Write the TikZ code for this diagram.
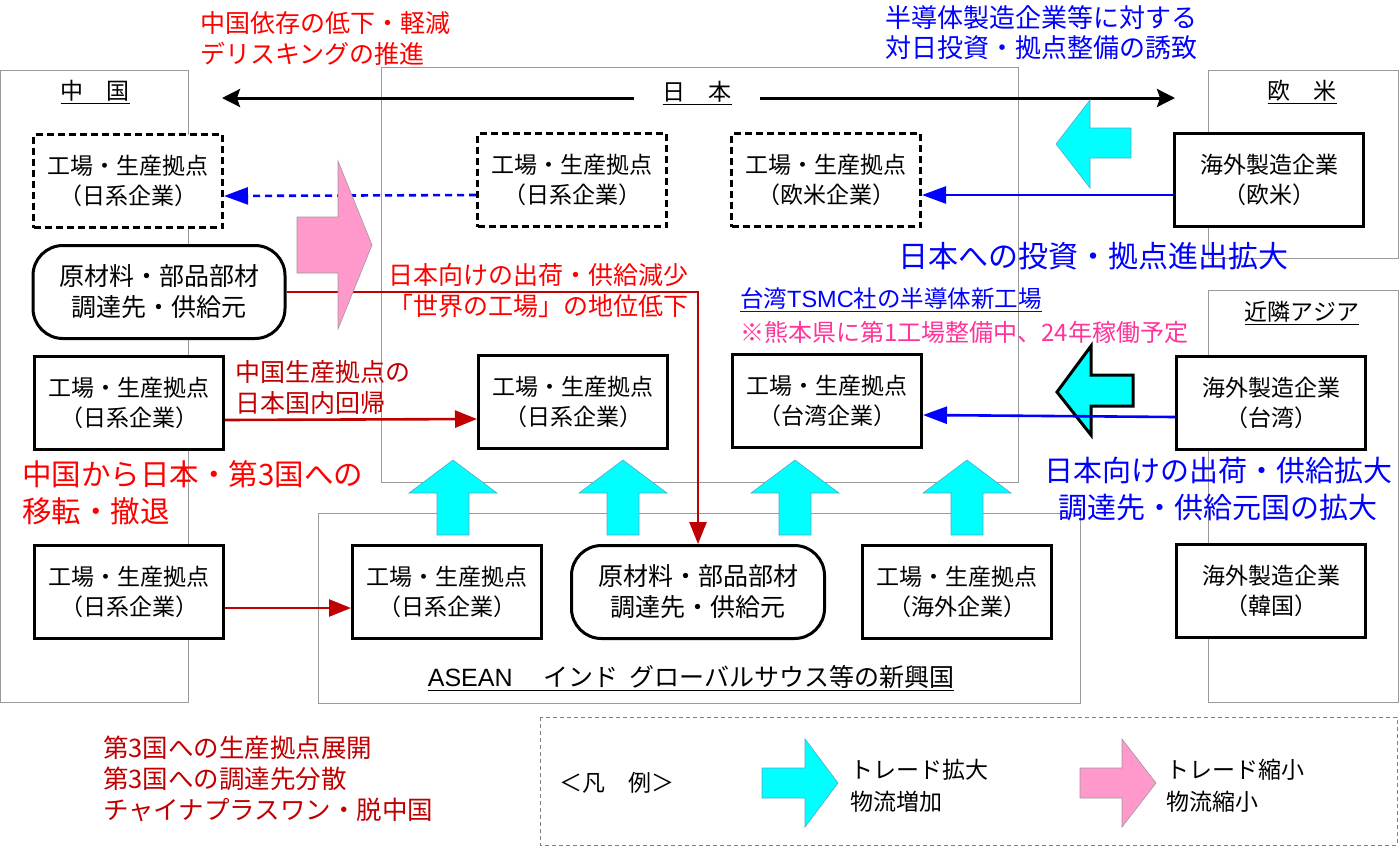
\documentclass[tikz,border=0pt]{standalone}
\usepackage{fontspec}
\setmainfont{Noto Sans CJK JP}
\newfontfamily\latfont{Liberation Sans}
\usetikzlibrary{arrows.meta}
\definecolor{myred}{HTML}{FF0000}
\definecolor{dred}{HTML}{C00000}
\definecolor{myblue}{HTML}{0000FF}
\definecolor{mypink}{HTML}{FF99CC}
\definecolor{mycyan}{HTML}{00FFFF}
\definecolor{tsmcpink}{HTML}{FF3399}
\definecolor{regiongray}{HTML}{9A9A9A}
\tikzset{
  region/.style={draw=regiongray, line width=1pt},
  box/.style={draw, fill=white, line width=3pt, minimum width=189pt, minimum height=93pt, align=center, inner sep=0pt, font=\fontsize{23}{30}\selectfont},
  dbox/.style={box, dash pattern=on 7pt off 4pt},
  rbox/.style={box, rounded corners=30pt, font=\fontsize{25}{31}\selectfont},
  ttl/.style={inner sep=0pt, font=\fontsize{23}{28}\selectfont},
  txt/.style={inner sep=0pt, align=left, anchor=west},
  bigcyan/.style={fill=mycyan, draw=cyan!60!gray, line width=0.6pt},
  bigpink/.style={fill=mypink, draw=gray!80, line width=0.6pt},
  blk/.style={line width=3pt, -{Stealth[length=18pt,width=18pt,inset=3pt]}},
  bl/.style={draw=myblue, line width=2.6pt, -{Triangle[length=24pt,width=17pt]}},
  rd/.style={draw=dred, line width=2.6pt, -{Triangle[length=22pt,width=17pt]}}
}
\begin{document}
\begin{tikzpicture}[x=1pt,y=-1pt]
\useasboundingbox (0,0) rectangle (1400,847);
% regions
\draw[region] (0.5,70) rectangle (188,702);
\draw[region] (381,67) rectangle (1018,482);
\draw[region] (1208,70) rectangle (1398,258);
\draw[region] (1208,290) rectangle (1398,702);
\draw[region] (318,513) rectangle (1080,703);
\draw[draw=gray, line width=1pt, dash pattern=on 4pt off 3pt] (540,717) rectangle (1397,845);

% titles
\node[ttl] (cnT) at (95,92) {\underline{中　国}};
\node[ttl, minimum width=125pt] (jpT) at (697,93) {\underline{日　本}};
\node[ttl] (euT) at (1302,92) {\underline{欧　米}};
\node[ttl] (asT) at (1302,313) {\underline{近隣アジア}};
\node[ttl, font=\fontsize{25}{28}\selectfont] (seT) at (691,678) {\underline{{\latfont ASEAN}\ 　インド\ \ グローバルサウス等の新興国}};
\coordinate (lend) at (222,98);
\coordinate (rend) at (1175,98);
\draw[blk] ([yshift=-5pt]jpT.west) -- (lend);
\draw[blk] ([yshift=-5pt]jpT.east) -- (rend);

% big arrows (behind boxes)
\draw[bigcyan] (1131,128) -- (1090,128) -- (1090,100) -- (1056,144) -- (1090,188) -- (1090,158) -- (1131,158) -- cycle;
\draw[fill=mycyan, draw=black, line width=3pt, line join=miter] (1133,375) -- (1091,375) -- (1091,346) -- (1057,392) -- (1091,435) -- (1091,406) -- (1133,406) -- cycle;
\foreach \cx in {453,623,795,967}{
  \draw[bigcyan] (\cx-16,535) -- (\cx-16,493) -- (\cx-44,493) -- (\cx,460) -- (\cx+44,493) -- (\cx+16,493) -- (\cx+16,535) -- cycle;
}
\draw[bigcyan] (762,768) -- (805,768) -- (805,739) -- (838,783) -- (805,827) -- (805,798) -- (762,798) -- cycle;
\draw[bigpink] (1080,768) -- (1122,768) -- (1122,739) -- (1156,783) -- (1122,827) -- (1122,798) -- (1080,798) -- cycle;

% boxes
\node[dbox] (c1) at (128,181) {工場・生産拠点\\（日系企業）};
\node[rbox, minimum width=252pt] (c2) at (159,292) {原材料・部品部材\\調達先・供給元};
\node[box] (c3) at (129,403) {工場・生産拠点\\（日系企業）};
\node[box] (c4) at (129,592) {工場・生産拠点\\（日系企業）};
\node[dbox] (j1) at (572,180) {工場・生産拠点\\（日系企業）};
\node[dbox] (j2) at (826,180) {工場・生産拠点\\（欧米企業）};
\node[box] (j3) at (573,402) {工場・生産拠点\\（日系企業）};
\node[box] (j4) at (827,401) {工場・生産拠点\\（台湾企業）};
\node[box] (eu) at (1269,180) {海外製造企業\\（欧米）};
\node[box] (tw) at (1271,403) {海外製造企業\\（台湾）};
\node[box] (kr) at (1271,591) {海外製造企業\\（韓国）};
\node[box] (a1) at (447,592) {工場・生産拠点\\（日系企業）};
\node[rbox, minimum width=253pt] (a2) at (698,592) {原材料・部品部材\\調達先・供給元};
\node[box] (a3) at (957,592) {工場・生産拠点\\（海外企業）};

% connectors
\draw[bl, dash pattern=on 7pt off 5pt] ([yshift=-15pt]j1.west) -- ([yshift=-15pt]c1.east);
\draw[bl] ([yshift=-15pt]eu.west) -- ([yshift=-15pt]j2.east);
\draw[bl] ([yshift=-14pt]tw.west) -- ([yshift=-14pt]j4.east);
\draw[rd] ([yshift=-17pt]c3.east) -- ([yshift=-17pt]j3.west);
\draw[rd] ([yshift=-16pt]c4.east) -- ([yshift=-16pt]a1.west);
\draw[rd] (c2.east) -| (a2.north);

% pink arrow above the red line
\draw[bigpink] (297,217) -- (338,217) -- (338,161) -- (372,245) -- (338,329) -- (338,273) -- (297,273) -- cycle;

% texts
\node[txt, text=myred, font=\fontsize{25}{31}\selectfont] (t1) at (200,38) {中国依存の低下・軽減\\デリスキングの推進};
\node[txt, text=myblue, font=\fontsize{26}{30}\selectfont] (t2) at (885,33) {半導体製造企業等に対する\\対日投資・拠点整備の誘致};
\node[txt, text=myblue, font=\fontsize{30}{36}\selectfont] (t3) at (898,256) {日本への投資・拠点進出拡大};
\node[txt, text=myred, font=\fontsize{25}{31}\selectfont] (t4) at (388,291) {日本向けの出荷・供給減少\\「世界の工場」の地位低下};
\node[txt, text=myblue, font=\fontsize{23.5}{28}\selectfont] (t5) at (740,300) {\underline{台湾{\latfont TSMC}社の半導体新工場}};
\node[txt, text=tsmcpink, font=\fontsize{24}{28}\selectfont] (t6) at (740,332) {※熊本県に第1工場整備中、24年稼働予定};
\node[txt, text=dred, font=\fontsize{25}{31}\selectfont] (t7) at (235,388) {中国生産拠点の\\日本国内回帰};
\node[txt, text=myred, font=\fontsize{29.5}{37}\selectfont] (t8) at (22,493) {中国から日本・第3国への\\移転・撤退};
\node[inner sep=0pt, align=center, text=myblue, font=\fontsize{29}{37}\selectfont] (t9) at (1218,489) {日本向けの出荷・供給拡大\\調達先・供給元国の拡大};
\node[txt, text=dred, font=\fontsize{25.5}{31}\selectfont] (t10) at (103,779) {第3国への生産拠点展開\\第3国への調達先分散\\チャイナプラスワン・脱中国};
\node[ttl] (lg) at (617,783) {＜凡　例＞};
\node[txt, font=\fontsize{23}{32}\selectfont] (lg1) at (850,786) {トレード拡大\\物流増加};
\node[txt, font=\fontsize{23}{32}\selectfont] (lg2) at (1166,786) {トレード縮小\\物流縮小};
\end{tikzpicture}
\end{document}
